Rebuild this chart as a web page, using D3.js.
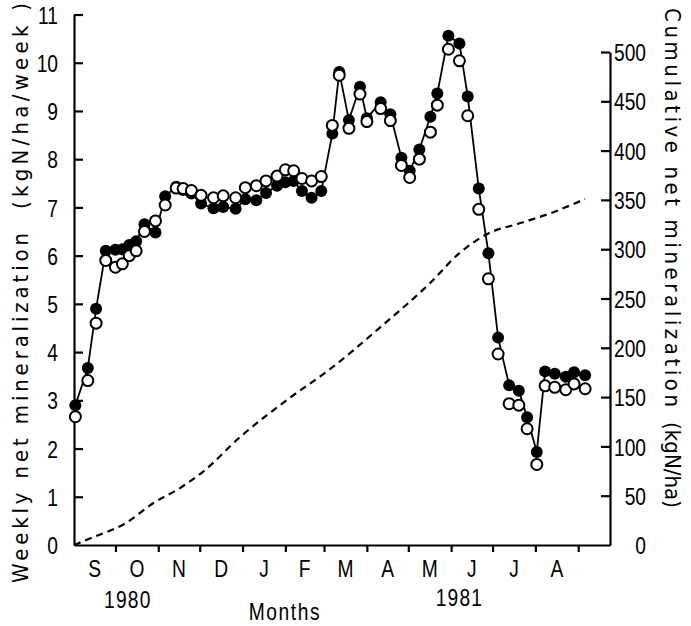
<!DOCTYPE html>
<html>
<head>
<meta charset="utf-8">
<script src="https://cdn.jsdelivr.net/npm/d3@7"></script>
<style>
  body { margin: 0; background: #fff; }
  text { font-family: "Liberation Sans", Arial, sans-serif; fill: #000; }
  text.title { font-family: "DejaVu Sans Condensed", "Liberation Sans", sans-serif; }
</style>
</head>
<body>
<svg id="chart" width="691" height="626"></svg>
<script>
// Sampling dates of the weekly measurements (Sep 1980 - Sep 1981)
const sampleDates = [
  "1980-09-02","1980-09-11","1980-09-17","1980-09-24","1980-10-01","1980-10-06","1980-10-11","1980-10-16",
  "1980-10-22","1980-10-30","1980-11-06","1980-11-14","1980-11-19","1980-11-25","1980-12-02","1980-12-11",
  "1980-12-18","1980-12-27","1981-01-03","1981-01-11","1981-01-18","1981-01-26","1981-02-01","1981-02-07",
  "1981-02-13","1981-02-20","1981-02-27","1981-03-07","1981-03-12","1981-03-19","1981-03-27","1981-04-01",
  "1981-04-11","1981-04-18","1981-04-26","1981-05-02","1981-05-09","1981-05-17","1981-05-22","1981-05-30",
  "1981-06-07","1981-06-13","1981-06-21","1981-06-28","1981-07-05","1981-07-13","1981-07-20","1981-07-26",
  "1981-08-02","1981-08-08","1981-08-15","1981-08-23","1981-08-29","1981-09-06"
];

// Weekly net mineralization, kgN/ha/week (filled symbols, joined by the line)
const weeklyFilled = [
  2.9, 3.67, 4.9, 6.1, 6.12, 6.13, 6.22, 6.3,
  6.65, 6.48, 7.23, 7.43, 7.36, 7.29, 7.08, 6.98,
  7.01, 6.97, 7.17, 7.15, 7.3, 7.45, 7.52, 7.55,
  7.34, 7.2, 7.34, 8.53, 9.81, 8.81, 9.5, 8.85,
  9.18, 8.93, 8.03, 7.76, 8.2, 8.88, 9.36, 10.56,
  10.4, 9.3, 7.39, 6.05, 4.3, 3.31, 3.2, 2.65,
  1.93, 3.6, 3.55, 3.49, 3.58, 3.52
];

// Weekly net mineralization, kgN/ha/week (open symbols)
const weeklyOpen = [
  2.66, 3.41, 4.6, 5.9, 5.76, 5.83, 6.0, 6.1,
  6.5, 6.72, 7.05, 7.4, 7.39, 7.35, 7.25, 7.2,
  7.24, 7.2, 7.41, 7.45, 7.55, 7.65, 7.78, 7.76,
  7.6, 7.55, 7.64, 8.7, 9.74, 8.64, 9.35, 8.78,
  9.05, 8.8, 7.87, 7.62, 8.0, 8.56, 9.12, 10.28,
  10.04, 8.9, 6.96, 5.52, 3.96, 2.93, 2.9, 2.41,
  1.67, 3.3, 3.27, 3.22, 3.34, 3.24
];

// Cumulative net mineralization, kgN/ha (dashed curve, right axis)
const cumulativeDates = [
  "1980-09-01","1980-09-15","1980-10-07","1980-10-29","1980-11-17","1980-12-04","1980-12-29",
  "1981-02-03","1981-03-05","1981-04-10","1981-05-17","1981-06-07","1981-06-28","1981-07-20",
  "1981-08-11","1981-09-06"
];
const cumulativeValues = [0, 8, 21, 43, 58, 75, 108, 148, 178, 220, 266, 296, 316, 326, 336, 351];

// Axis ticks and labels
const leftTicks = [0, 1, 2, 3, 4, 5, 6, 7, 8, 9, 10, 11];
const rightTicks = [0, 50, 100, 150, 200, 250, 300, 350, 400, 450, 500];
const monthLabels = ["S", "O", "N", "D", "J", "F", "M", "A", "M", "J", "J", "A"];
const yearLabels = ["1980", "1981"];
const yearLabelDates = ["1980-10-10", "1981-06-07"];

const parse = d3.timeParse("%Y-%m-%d");
const svg = d3.select("#chart");

// Horizontally condensed lettering: squeeze glyphs while keeping the anchor point
const squeeze = 0.8;
function condense(sel) {
  sel.each(function () {
    const t = d3.select(this);
    const xv = +t.attr("x") || 0;
    t.attr("x", xv / squeeze).attr("transform", `scale(${squeeze},1)`);
  });
}

const x = d3.scaleTime()
  .domain([parse("1980-09-01"), parse("1981-09-24")])
  .range([74, 610]);
const yLeft = d3.scaleLinear().domain([0, 11]).range([545, 14.5]);
const yRight = d3.scaleLinear().domain([0, 500]).range([545, 52]);

const weekly = sampleDates.map((d, i) => ({
  date: parse(d), filled: weeklyFilled[i], open: weeklyOpen[i]
}));
const cumulative = cumulativeDates.map((d, i) => ({ date: parse(d), value: cumulativeValues[i] }));

// ---- Axes ----
const axisStroke = 2.2;
const labelSize = "24px";

const gLeft = svg.append("g").attr("transform", "translate(74,0)")
  .call(d3.axisLeft(yLeft).tickValues(leftTicks).tickSizeInner(-9).tickSizeOuter(0).tickPadding(16));
gLeft.selectAll("text").style("font-size", labelSize).attr("dy", "0.36em").call(condense);
gLeft.select(".domain").attr("stroke-width", axisStroke);
gLeft.selectAll(".tick line").attr("stroke-width", axisStroke);
gLeft.selectAll(".tick").filter(d => d === 0).select("line").remove();

const gRight = svg.append("g").attr("transform", "translate(610,0)")
  .call(d3.axisRight(yRight).tickValues(rightTicks).tickSizeInner(-9).tickSizeOuter(0).tickPadding(4));
gRight.selectAll("text").style("font-size", labelSize).attr("text-anchor", "end").attr("x", 36)
  .attr("dy", "0.36em").call(condense);
gRight.select(".domain").attr("stroke-width", axisStroke);
gRight.selectAll(".tick line").attr("stroke-width", axisStroke);
gRight.selectAll(".tick").filter(d => d === 0).select("line").remove();

const monthStarts = d3.timeMonth.range(parse("1980-10-01"), parse("1981-09-02"));
const gBottom = svg.append("g").attr("transform", "translate(0,545)")
  .call(d3.axisBottom(x).tickValues(monthStarts).tickSizeInner(7).tickSizeOuter(0).tickFormat(""));
gBottom.select(".domain").attr("stroke-width", axisStroke);
gBottom.selectAll(".tick line").attr("stroke-width", axisStroke);

// Month initials centred in each month
const months = d3.timeMonth.range(parse("1980-09-01"), parse("1981-09-01"));
svg.append("g").selectAll("text")
  .data(months)
  .join("text")
  .attr("x", d => (x(d) + x(d3.timeMonth.offset(d, 1))) / 2)
  .attr("y", 577)
  .attr("text-anchor", "middle")
  .style("font-size", labelSize)
  .text((d, i) => monthLabels[i])
  .call(condense);

// Year labels
svg.append("g").selectAll("text")
  .data(yearLabels)
  .join("text")
  .attr("x", (d, i) => x(parse(yearLabelDates[i])))
  .attr("y", (d, i) => i === 0 ? 608 : 606)
  .attr("text-anchor", "middle")
  .style("font-size", labelSize)
  .style("letter-spacing", "1.5px")
  .text(d => d)
  .call(condense);

svg.append("text")
  .attr("x", 285).attr("y", 620)
  .attr("text-anchor", "middle")
  .style("font-size", labelSize)
  .style("letter-spacing", "2px")
  .text("Months")
  .call(condense);

// Axis titles
svg.append("text").attr("class", "title")
  .attr("transform", "translate(28,583) rotate(-90)")
  .attr("text-anchor", "start")
  .attr("textLength", 350).attr("lengthAdjust", "spacing")
  .style("font-size", "22px")
  .text("Weekly net mineralization");
svg.append("text").attr("class", "title")
  .attr("transform", "translate(28,3) rotate(-90)")
  .attr("text-anchor", "end")
  .attr("textLength", 206).attr("lengthAdjust", "spacing")
  .style("font-size", "22px")
  .text("(kgN/ha/week )");

svg.append("text").attr("class", "title")
  .attr("transform", "translate(665,8) rotate(90)")
  .attr("text-anchor", "start")
  .attr("textLength", 399).attr("lengthAdjust", "spacing")
  .style("font-size", "22px")
  .text("Cumulative net mineralization");
svg.append("text").attr("class", "title")
  .attr("transform", "translate(665,508) rotate(90)")
  .attr("text-anchor", "end")
  .attr("textLength", 86).attr("lengthAdjust", "spacing")
  .style("font-size", "22px")
  .text("(kgN/ha)");

// ---- Cumulative dashed curve ----
svg.append("path")
  .datum(cumulative)
  .attr("fill", "none")
  .attr("stroke", "#000")
  .attr("stroke-width", 2.2)
  .attr("stroke-dasharray", "7,5")
  .attr("d", d3.line().x(d => x(d.date)).y(d => yRight(d.value)).curve(d3.curveMonotoneX));

// ---- Weekly series ----
svg.append("path")
  .datum(weekly)
  .attr("fill", "none")
  .attr("stroke", "#000")
  .attr("stroke-width", 1.8)
  .attr("d", d3.line().x(d => x(d.date)).y(d => yLeft(d.filled)));

svg.append("g").selectAll("circle")
  .data(weekly)
  .join("circle")
  .attr("cx", d => x(d.date))
  .attr("cy", d => yLeft(d.filled))
  .attr("r", 6)
  .attr("fill", "#000");

svg.append("g").selectAll("circle")
  .data(weekly)
  .join("circle")
  .attr("cx", d => x(d.date))
  .attr("cy", d => yLeft(d.open))
  .attr("r", 5.5)
  .attr("fill", "#fff")
  .attr("stroke", "#000")
  .attr("stroke-width", 2);
</script>
</body>
</html>
